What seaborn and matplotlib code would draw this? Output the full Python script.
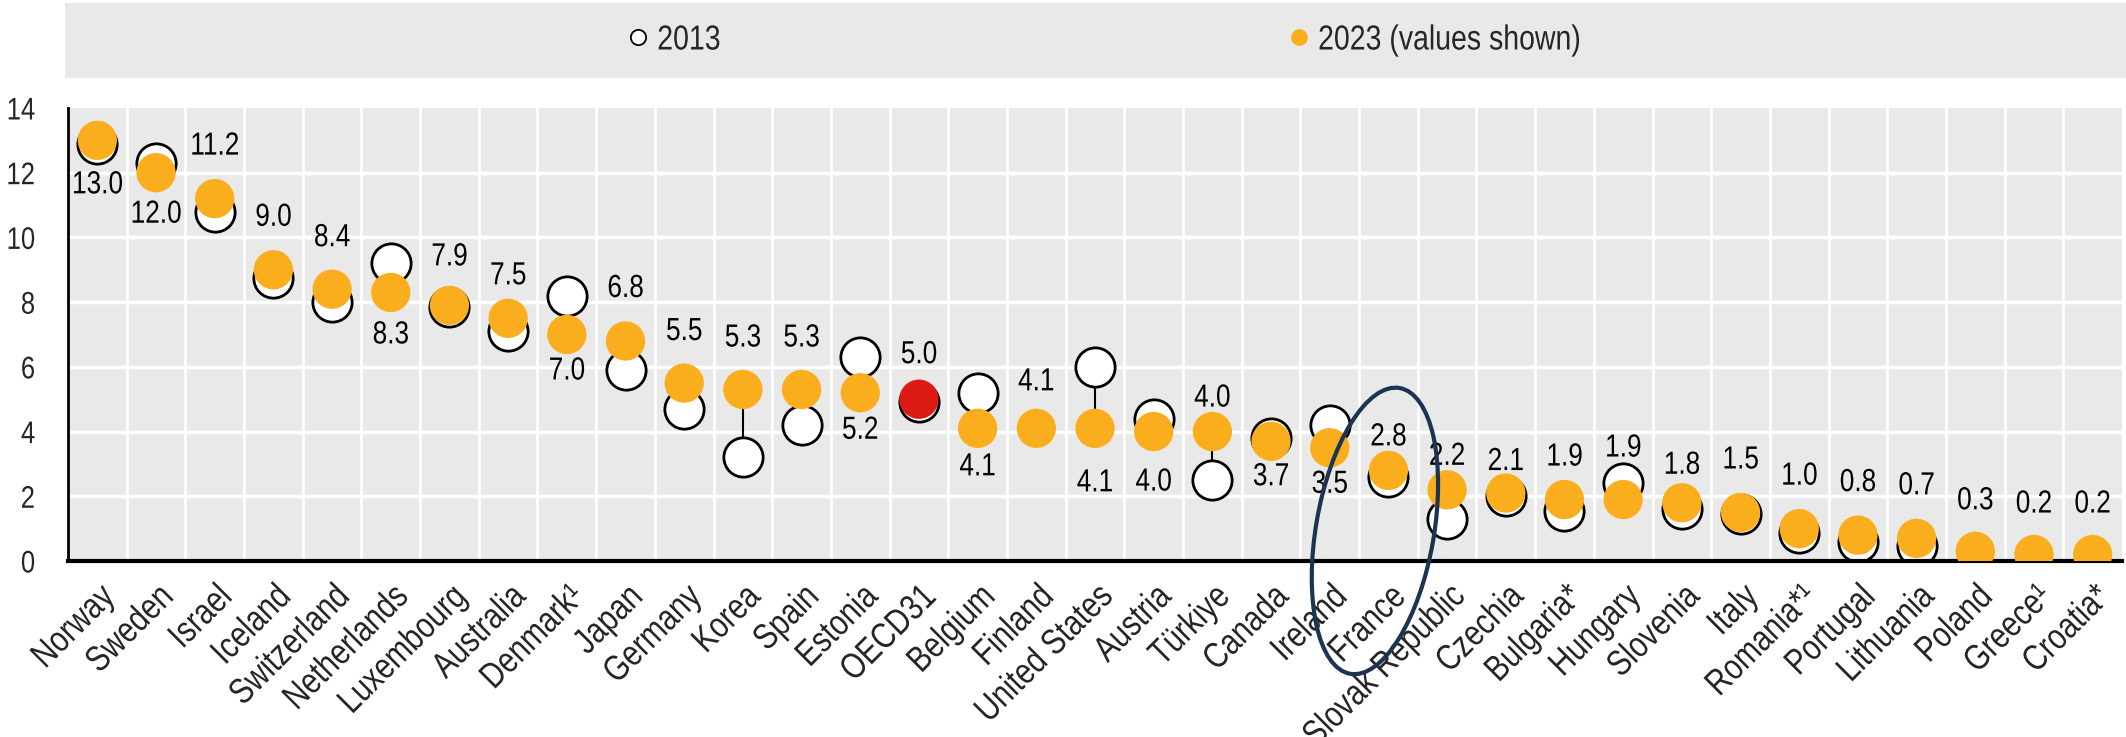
import numpy as np
import pandas as pd
import matplotlib
matplotlib.use("Agg")
import matplotlib.pyplot as plt
from matplotlib.patches import Ellipse, Rectangle
from matplotlib.lines import Line2D
from matplotlib.patheffects import AbstractPathEffect
from matplotlib.transforms import Affine2D
import seaborn as sns

countries = ["Norway", "Sweden", "Israel", "Iceland", "Switzerland", "Netherlands",
             "Luxembourg", "Australia", "Denmark\u00b9", "Japan", "Germany", "Korea",
             "Spain", "Estonia", "OECD31", "Belgium", "Finland", "United States",
             "Austria", "T\u00fcrkiye", "Canada", "Ireland", "France", "Slovak Republic",
             "Czechia", "Bulgaria*", "Hungary", "Slovenia", "Italy", "Romania*\u00b9",
             "Portugal", "Lithuania", "Poland", "Greece\u00b9", "Croatia*"]
v2023 = [13.0, 12.0, 11.2, 9.0, 8.4, 8.3, 7.9, 7.5, 7.0, 6.8, 5.5, 5.3, 5.3, 5.2, 5.0,
         4.1, 4.1, 4.1, 4.0, 4.0, 3.7, 3.5, 2.8, 2.2, 2.1, 1.9, 1.9, 1.8, 1.5, 1.0,
         0.8, 0.7, 0.3, 0.2, 0.2]
v2013 = [12.9, 12.3, 10.8, 8.75, 8.0, 9.2, 7.85, 7.1, 8.2, 5.9, 4.7, 3.2, 4.2, 6.3, 4.9,
         5.2, np.nan, 6.0, 4.4, 2.5, 3.8, 4.2, 2.6, 1.3, 2.0, 1.55, 2.4, 1.6, 1.45, 0.86,
         0.6, 0.45, np.nan, np.nan, np.nan]
highlight = "OECD31"
yticks = [0, 2, 4, 6, 8, 10, 12, 14]
legend_labels = ["2013", "2023 (values shown)"]

# vertical placement of each value label relative to its 2023 marker (pixels, + = below)
label_dy = [45, 42, -52, -52, -51, 43, -48, -42, 37, -52, -51, -51, -51, 38, -44,
            39, -46, 55, 51, -33, 36, 37, -33, -33, -31, -42, -51, -37, -52, -52,
            -52, -52, -50, -50, -50]

ORANGE = "#fbae1d"
RED = "#dc1a14"
GREY = "#e9e9e9"
NAVY = "#1c3452"
SQ = 0.82  # horizontal condensing to mimic a narrow typeface


class HSquash(AbstractPathEffect):
    """Condense text glyphs horizontally around an anchor of the text path."""

    def __init__(self, sx=SQ, anchor="center"):
        super().__init__()
        self.sx = sx
        self.anchor = anchor

    def draw_path(self, renderer, gc, tpath, affine, rgbFace=None):
        ext = tpath.get_extents()
        if self.anchor == "center":
            x0 = (ext.x0 + ext.x1) / 2
        elif self.anchor == "right":
            x0 = ext.x1
        else:
            x0 = 0
        pre = Affine2D().translate(-x0, 0).scale(self.sx, 1).translate(x0, 0)
        renderer.draw_path(gc, tpath, pre + affine, rgbFace)


sns.set_style("white")
plt.rcParams["font.family"] = ["Liberation Sans", "DejaVu Sans"]

df = pd.DataFrame({"country": countries, "y2023": v2023, "y2013": v2013})
df["x"] = np.arange(len(df))
df["grp"] = np.where(df["country"] == highlight, "hl", "norm")

fig = plt.figure(figsize=(21.26, 7.37), dpi=100)
ax = fig.add_axes([68 / 2126, 1 - 561 / 737, (2122 - 68) / 2126, (561 - 108) / 737])
ax.set_facecolor(GREY)

n = len(df)
ax.set_xlim(-0.5, n - 0.5)
ax.set_ylim(0, 14)

# grid
for b in np.arange(0.5, n - 0.5, 1):
    ax.axvline(b, color="white", lw=2, zorder=0.5)
for t in yticks[1:-1]:
    ax.axhline(t, color="white", lw=2.5, zorder=0.5)

# connectors
ax.vlines(df["x"], df["y2013"], df["y2023"], color="black", lw=1.5, zorder=1)

# 2013 markers
d13 = df.dropna(subset=["y2013"])
sns.scatterplot(data=d13, x="x", y="y2013", ax=ax, s=800, color="white",
                edgecolor="black", linewidth=2, zorder=2, legend=False)
# 2023 markers
sns.scatterplot(data=df, x="x", y="y2023", hue="grp", palette={"norm": ORANGE, "hl": RED},
                ax=ax, s=800, linewidth=0, zorder=3, legend=False)

# value labels
for i, r in df.iterrows():
    t = ax.annotate(f"{r['y2023']:.1f}", (r["x"], r["y2023"]), xytext=(0, -label_dy[i]),
                    textcoords="offset pixels", ha="center", va="center",
                    fontsize=23, color="black", zorder=4)
    t.set_path_effects([HSquash(anchor="center")])

ax.set_xlabel("")
ax.set_ylabel("")
ax.set_yticks(yticks)
ax.set_yticklabels([str(t) for t in yticks], fontsize=22.5)
ax.set_xticks(df["x"])
ax.set_xticklabels(df["country"], rotation=45, ha="right", va="top",
                   rotation_mode="anchor", fontsize=26)
ax.tick_params(axis="x", which="major", length=0, pad=13)
ax.set_xticks(np.arange(0.5, n - 0.5, 1), minor=True)
ax.tick_params(axis="x", which="minor", direction="in", length=9, width=2, color="black")
ax.tick_params(axis="y", direction="in", length=10, width=2, color="black", pad=23.5)
for lbl in ax.get_xticklabels() + ax.get_yticklabels():
    lbl.set_path_effects([HSquash(anchor="right")])

for s in ["top", "right"]:
    ax.spines[s].set_visible(False)
ax.spines["left"].set_linewidth(2)
ax.spines["left"].set_color("black")
ax.spines["bottom"].set_linewidth(3)
ax.spines["bottom"].set_color("black")

# legend panel
fig.patches.append(Rectangle((65 / 2126, 1 - 78 / 737), 1 - 65 / 2126, 75 / 737,
                             transform=fig.transFigure, facecolor=GREY,
                             edgecolor="none", zorder=0))
handles = [Line2D([], [], marker="o", ls="none", markersize=11, markerfacecolor="white",
                  markeredgecolor="black", markeredgewidth=1.3),
           Line2D([], [], marker="o", ls="none", markersize=12, markerfacecolor=ORANGE,
                  markeredgecolor="none")]
leg = fig.legend(handles, legend_labels, ncol=2, loc="center left",
                 bbox_to_anchor=(626 / 2126, 1 - 40 / 737), frameon=False, fontsize=25,
                 handlelength=0.7, handletextpad=0.2, columnspacing=15.9,
                 borderpad=0, borderaxespad=0)
for txt in leg.get_texts():
    txt.set_path_effects([HSquash(anchor="left")])

# ellipse annotation around France
fig.canvas.draw()
cx, cy = ax.transData.transform((21.77, 0.93))
ell = Ellipse((cx / fig.dpi, cy / fig.dpi), width=1.18, height=2.9, angle=-9.8,
              transform=fig.dpi_scale_trans, fill=False, edgecolor=NAVY, lw=3,
              clip_on=False, zorder=10)
fig.patches.append(ell)

fig.savefig("out.png", dpi=100)
